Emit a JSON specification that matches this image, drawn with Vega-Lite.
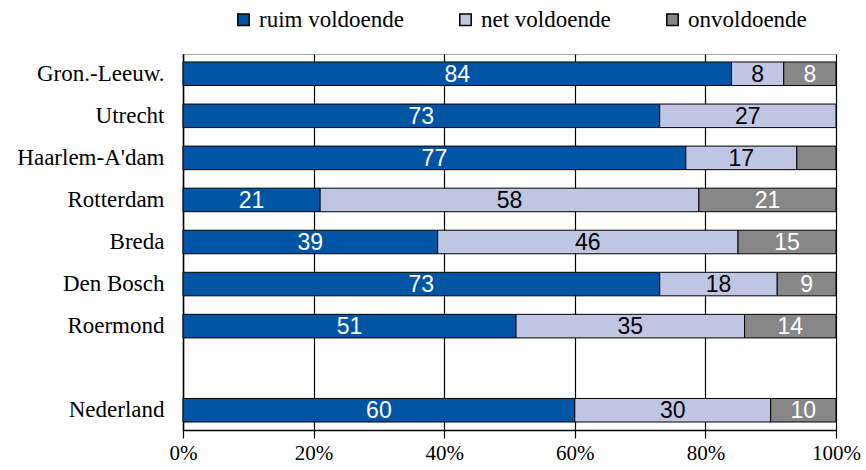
{
  "$schema": "https://vega.github.io/schema/vega-lite/v6.json",
  "width": 653,
  "height": 376,
  "autosize": {"type": "none"},
  "padding": {"left": 183, "top": 54, "right": 30, "bottom": 40},
  "background": "white",
  "config": {
    "view": {"stroke": "#a0a0a0", "strokeWidth": 1},
    "font": "Liberation Serif"
  },
  "data": {
    "values": [
      {"regio": "Gron.-Leeuw.", "oordeel": "ruim voldoende", "pct": 84},
      {"regio": "Gron.-Leeuw.", "oordeel": "net voldoende", "pct": 8},
      {"regio": "Gron.-Leeuw.", "oordeel": "onvoldoende", "pct": 8},
      {"regio": "Utrecht", "oordeel": "ruim voldoende", "pct": 73},
      {"regio": "Utrecht", "oordeel": "net voldoende", "pct": 27},
      {"regio": "Haarlem-A'dam", "oordeel": "ruim voldoende", "pct": 77},
      {"regio": "Haarlem-A'dam", "oordeel": "net voldoende", "pct": 17},
      {"regio": "Haarlem-A'dam", "oordeel": "onvoldoende", "pct": 6},
      {"regio": "Rotterdam", "oordeel": "ruim voldoende", "pct": 21},
      {"regio": "Rotterdam", "oordeel": "net voldoende", "pct": 58},
      {"regio": "Rotterdam", "oordeel": "onvoldoende", "pct": 21},
      {"regio": "Breda", "oordeel": "ruim voldoende", "pct": 39},
      {"regio": "Breda", "oordeel": "net voldoende", "pct": 46},
      {"regio": "Breda", "oordeel": "onvoldoende", "pct": 15},
      {"regio": "Den Bosch", "oordeel": "ruim voldoende", "pct": 73},
      {"regio": "Den Bosch", "oordeel": "net voldoende", "pct": 18},
      {"regio": "Den Bosch", "oordeel": "onvoldoende", "pct": 9},
      {"regio": "Roermond", "oordeel": "ruim voldoende", "pct": 51},
      {"regio": "Roermond", "oordeel": "net voldoende", "pct": 35},
      {"regio": "Roermond", "oordeel": "onvoldoende", "pct": 14},
      {"regio": "Nederland", "oordeel": "ruim voldoende", "pct": 60},
      {"regio": "Nederland", "oordeel": "net voldoende", "pct": 30},
      {"regio": "Nederland", "oordeel": "onvoldoende", "pct": 10}
    ]
  },
  "transform": [
    {"calculate": "indexof(['ruim voldoende','net voldoende','onvoldoende'], datum.oordeel)", "as": "volgorde"},
    {"stack": "pct", "groupby": ["regio"], "sort": [{"field": "volgorde", "order": "ascending"}], "offset": "normalize", "as": ["x0", "x1"]},
    {"calculate": "(datum.x0 + datum.x1) / 2", "as": "xm"}
  ],
  "encoding": {
    "y": {
      "field": "regio",
      "type": "nominal",
      "scale": {
        "domain": ["Gron.-Leeuw.", "Utrecht", "Haarlem-A'dam", "Rotterdam", "Breda", "Den Bosch", "Roermond", " ", "Nederland"],
        "paddingInner": 0.44,
        "paddingOuter": 0.19
      },
      "axis": {
        "title": null,
        "ticks": false,
        "domainColor": "black",
        "domainWidth": 1.5,
        "labelFont": "Liberation Serif",
        "labelFontSize": 23,
        "labelColor": "black",
        "labelPadding": 19,
        "labelLimit": 200
      }
    }
  },
  "layer": [
    {
      "mark": {"type": "bar", "stroke": "black", "strokeWidth": 1},
      "encoding": {
        "x": {
          "field": "x0",
          "type": "quantitative",
          "scale": {"domain": [0, 1], "nice": false},
          "axis": {
            "title": null,
            "format": ".0%",
            "values": [0, 0.2, 0.4, 0.6, 0.8, 1],
            "grid": true,
            "gridColor": "black",
            "gridWidth": 1.2,
            "domainColor": "black",
            "domainWidth": 1.5,
            "tickColor": "black",
            "tickSize": 8,
            "tickWidth": 1.2,
            "labelFont": "Liberation Serif",
            "labelFontSize": 21,
            "labelColor": "black",
            "labelPadding": 4,
            "labelFlush": false
          }
        },
        "x2": {"field": "x1"},
        "color": {
          "field": "oordeel",
          "type": "nominal",
          "scale": {
            "domain": ["ruim voldoende", "net voldoende", "onvoldoende"],
            "range": ["#0054A4", "#BFC6E3", "#878787"]
          },
          "legend": {
            "title": null,
            "orient": "none",
            "direction": "horizontal",
            "legendX": 49,
            "legendY": -46,
            "symbolType": "square",
            "symbolSize": 130,
            "symbolStrokeColor": "black",
            "symbolStrokeWidth": 1.5,
            "symbolOpacity": 1,
            "labelFont": "Liberation Serif",
            "labelFontSize": 23,
            "labelColor": "black",
            "labelOffset": 4,
            "labelLimit": 250,
            "columnPadding": 50,
            "padding": 0
          }
        }
      }
    },
    {
      "transform": [{"filter": "datum.pct >= 8"}],
      "mark": {"type": "text", "font": "Liberation Sans", "fontSize": 23, "baseline": "middle", "align": "center", "dy": 1},
      "encoding": {
        "x": {"field": "xm", "type": "quantitative"},
        "text": {"field": "pct", "type": "quantitative"},
        "color": {
          "condition": {"test": "datum.oordeel == 'net voldoende'", "value": "black"},
          "value": "white"
        }
      }
    }
  ]
}
